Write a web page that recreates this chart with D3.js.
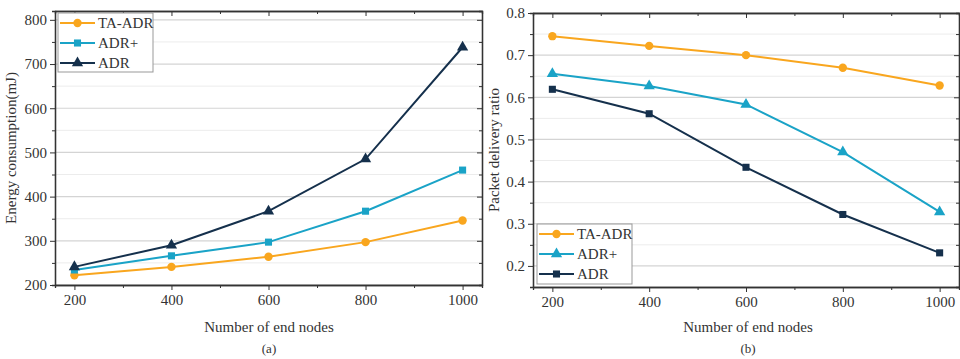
<!DOCTYPE html>
<html>
<head>
<meta charset="utf-8">
<script src="https://cdn.jsdelivr.net/npm/d3@7"></script>
<style>
  body { margin: 0; background: #fff; }
  svg text { font-family: "Liberation Serif", "DejaVu Serif", serif !important; fill: #333; }
</style>
</head>
<body>
<script>
const nodes = [200, 400, 600, 800, 1000];
const seriesNames = ['TA-ADR', 'ADR+', 'ADR'];
const colors = ['#f9a61e', '#1aa3c7', '#15304c'];

// (a) energy consumption, mJ
const energyTA = [222, 241, 264, 297, 346];
const energyPlus = [234, 266, 297, 367, 460];
const energyADR = [241, 290, 367, 485, 738];

// (b) packet delivery ratio
const pdrTA = [0.745, 0.722, 0.700, 0.670, 0.628];
const pdrPlus = [0.656, 0.627, 0.583, 0.470, 0.328];
const pdrADR = [0.619, 0.561, 0.434, 0.322, 0.231];

const yTicksA = [200, 300, 400, 500, 600, 700, 800];
const yTicksB = [0.2, 0.3, 0.4, 0.5, 0.6, 0.7, 0.8];

const svg = d3.select('body').append('svg')
    .attr('width', 960)
    .attr('height', 359);

function drawPanel(opt) {
    const x = d3.scaleLinear().domain([160, 1040]).range([opt.left, opt.right]);
    const y = d3.scaleLinear().domain(opt.yDomain).range([opt.bottom, opt.top]);
    const g = svg.append('g');

    // grid (major + minor)
    const minorY = opt.yTicks.slice(0, -1).map((v, i) => (v + opt.yTicks[i + 1]) / 2)
        .concat([opt.yTicks[opt.yTicks.length - 1] + (opt.yTicks[1] - opt.yTicks[0]) / 2])
        .filter(v => v < opt.yDomain[1]);
    g.selectAll('.minor').data(minorY).enter().append('line')
        .attr('x1', opt.left).attr('x2', opt.right)
        .attr('y1', d => y(d)).attr('y2', d => y(d))
        .attr('stroke', '#ececec').attr('stroke-width', 1);
    g.selectAll('.major').data(opt.yTicks).enter().append('line')
        .attr('x1', opt.left).attr('x2', opt.right)
        .attr('y1', d => y(d)).attr('y2', d => y(d))
        .attr('stroke', '#d4d4d4').attr('stroke-width', 1.2);

    const xMinor = [300, 500, 700, 900];

    // axes
    const xAxis = d3.axisBottom(x).tickValues(nodes).tickSize(5).tickSizeOuter(0).tickPadding(4)
        .tickFormat(d3.format('d'));
    const gx = g.append('g').attr('transform', 'translate(0,' + opt.bottom + ')').call(xAxis);
    gx.append('g').call(d3.axisBottom(x).tickValues(xMinor).tickSize(3).tickFormat(''));
    const gxt = g.append('g').attr('transform', 'translate(0,' + opt.top + ')')
        .call(d3.axisBottom(x).tickValues(nodes).tickSize(5).tickSizeOuter(0).tickFormat(''));
    gxt.append('g').call(d3.axisBottom(x).tickValues(xMinor).tickSize(3).tickFormat(''));

    const yAxis = d3.axisLeft(y).tickValues(opt.yTicks).tickSize(5).tickSizeOuter(0).tickPadding(3)
        .tickFormat(opt.fmt);
    const gy = g.append('g').attr('transform', 'translate(' + opt.left + ',0)').call(yAxis);
    gy.append('g').call(d3.axisLeft(y).tickValues(minorY).tickSize(3).tickFormat(''));
    const gyr = g.append('g').attr('transform', 'translate(' + opt.right + ',0)')
        .call(d3.axisLeft(y).tickValues(opt.yTicks).tickSize(5).tickSizeOuter(0).tickFormat(''));
    gyr.append('g').call(d3.axisLeft(y).tickValues(minorY).tickSize(3).tickFormat(''));

    g.selectAll('.domain').attr('stroke', '#333').attr('stroke-width', 1.3);
    g.selectAll('.tick line').attr('stroke', '#333');
    g.selectAll('.tick text').attr('font-size', 15).attr('fill', '#333');

    // lines
    const line = d3.line().x((d, i) => x(nodes[i])).y(d => y(d));
    opt.series.forEach((vals, si) => {
        g.append('path').datum(vals)
            .attr('d', line).attr('fill', 'none')
            .attr('stroke', colors[si]).attr('stroke-width', 2);
        g.selectAll('.m' + si).data(vals).enter().append('path')
            .attr('transform', (d, i) => 'translate(' + x(nodes[i]) + ',' + y(d) + ')')
            .attr('d', d3.symbol().type(opt.symbols[si]).size(opt.symSizes[si]))
            .attr('fill', colors[si]);
    });

    // labels
    g.append('text').attr('x', opt.titleX).attr('y', 332).attr('text-anchor', 'middle')
        .attr('font-size', 15).text('Number of end nodes');
    g.append('text').attr('x', opt.titleX).attr('y', 353).attr('text-anchor', 'middle')
        .attr('font-size', 13).text(opt.tag);
    g.append('text')
        .attr('transform', 'translate(' + opt.yTitleX + ',' + ((opt.top + opt.bottom) / 2) + ') rotate(-90)')
        .attr('text-anchor', 'middle').attr('font-size', 15).text(opt.yTitle);

    // legend
    const lg = g.append('g');
    lg.append('rect').attr('x', opt.legend.x).attr('y', opt.legend.y)
        .attr('width', opt.legend.w).attr('height', opt.legend.h)
        .attr('fill', '#fff').attr('stroke', '#999').attr('stroke-width', 1);
    seriesNames.forEach((name, si) => {
        const ry = opt.legend.y + 10 + si * opt.legend.step;
        const lx0 = opt.legend.x + 2, lx1 = opt.legend.x + opt.legend.lineW;
        lg.append('line').attr('x1', lx0).attr('x2', lx1).attr('y1', ry).attr('y2', ry)
            .attr('stroke', colors[si]).attr('stroke-width', 2);
        lg.append('path')
            .attr('transform', 'translate(' + ((lx0 + lx1) / 2) + ',' + ry + ')')
            .attr('d', d3.symbol().type(opt.symbols[si]).size(opt.symSizes[si]))
            .attr('fill', colors[si]);
        lg.append('text').attr('x', lx1 + 3).attr('y', ry + 5)
            .attr('font-size', 15).text(name);
    });
}

drawPanel({
    left: 55, right: 482, top: 11, bottom: 285,
    yDomain: [200, 820], yTicks: yTicksA, fmt: d3.format('d'),
    series: [energyTA, energyPlus, energyADR],
    symbols: [d3.symbolCircle, d3.symbolSquare, d3.symbolTriangle],
    symSizes: [55, 50, 55],
    titleX: 269, tag: '(a)', yTitleX: 16, yTitle: 'Energy consumption(mJ)',
    legend: {x: 58, y: 13, w: 95, h: 59, step: 20, lineW: 37}
});

drawPanel({
    left: 533, right: 959, top: 13, bottom: 287,
    yDomain: [0.15, 0.8], yTicks: yTicksB, fmt: d3.format('.1f'),
    series: [pdrTA, pdrPlus, pdrADR],
    symbols: [d3.symbolCircle, d3.symbolTriangle, d3.symbolSquare],
    symSizes: [55, 55, 50],
    titleX: 748, tag: '(b)', yTitleX: 499, yTitle: 'Packet delivery ratio',
    legend: {x: 537, y: 224, w: 95, h: 60, step: 20, lineW: 37}
});
</script>
</body>
</html>
